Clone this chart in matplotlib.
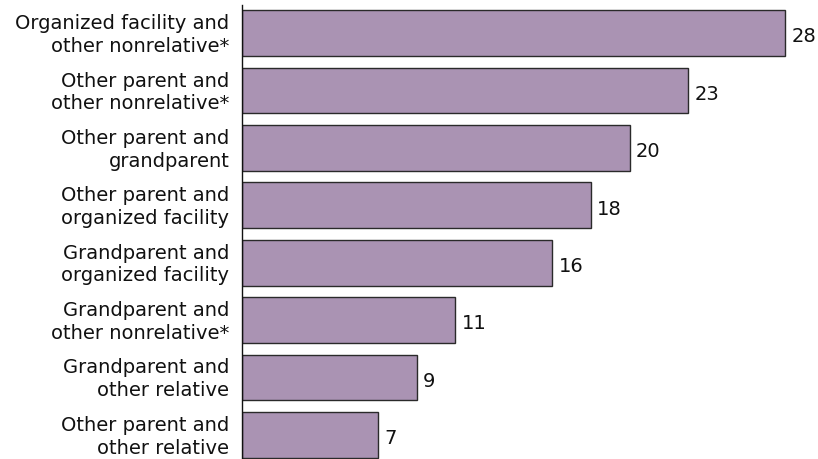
import matplotlib
matplotlib.use("Agg")
import matplotlib.pyplot as plt
import matplotlib.transforms as mtransforms

# ---- data ----
labels = [
    "Organized facility and\nother nonrelative*",
    "Other parent and\nother nonrelative*",
    "Other parent and\ngrandparent",
    "Other parent and\norganized facility",
    "Grandparent and\norganized facility",
    "Grandparent and\nother nonrelative*",
    "Grandparent and\nother relative",
    "Other parent and\nother relative",
]
values = [28, 23, 20, 18, 16, 11, 9, 7]

fig = plt.figure(figsize=(8.18, 4.6), dpi=100)
ax = fig.add_axes([242 / 818, 0, 1 - 242 / 818, 454 / 460])

pos = list(range(len(values)))
ax.barh(pos, values, height=0.8, color="#aa93b3", edgecolor="#2a2a2a", linewidth=1)

for p, v in zip(pos, values):
    ax.text(v + 0.32, p + 0.05, str(v), va="center", ha="left", fontsize=14, color="#111111")

ax.set_yticks(pos)
ax.set_yticklabels(labels, fontsize=14, color="#111111", ha="right", linespacing=1.25)
ax.tick_params(axis="y", length=0, pad=9)
ax.set_xticks([])
ax.set_xlim(0, 29.7)
ax.set_ylim(7.42, -0.49)

# nudge tick labels up a little
shift = mtransforms.ScaledTranslation(0, 3 / 100, fig.dpi_scale_trans)
for lab in ax.get_yticklabels():
    lab.set_transform(lab.get_transform() + shift)

for s in ["top", "right", "bottom"]:
    ax.spines[s].set_visible(False)
ax.spines["left"].set_color("#111111")
ax.spines["left"].set_linewidth(1)

fig.savefig("out.png", dpi=100)
